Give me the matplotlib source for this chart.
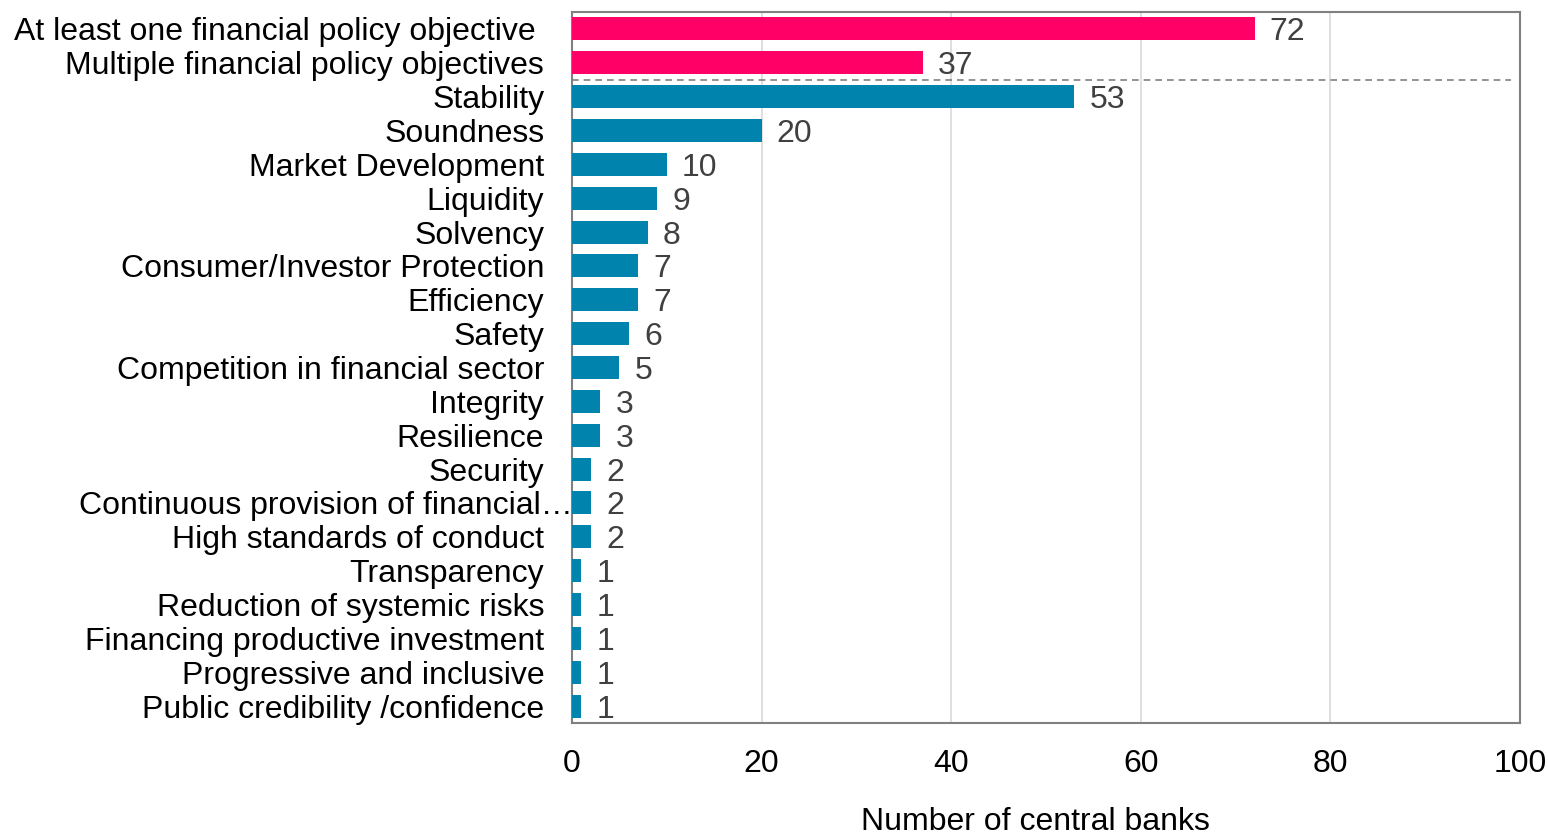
import matplotlib.pyplot as plt
from matplotlib.transforms import ScaledTranslation

categories = [
    "At least one financial policy objective ",
    "Multiple financial policy objectives",
    "Stability",
    "Soundness",
    "Market Development",
    "Liquidity",
    "Solvency",
    "Consumer/Investor Protection",
    "Efficiency",
    "Safety",
    "Competition in financial sector",
    "Integrity",
    "Resilience",
    "Security",
    "Continuous provision of financial\u2026",
    "High standards of conduct",
    "Transparency",
    "Reduction of systemic risks",
    "Financing productive investment",
    "Progressive and inclusive",
    "Public credibility /confidence",
]
values = [72, 37, 53, 20, 10, 9, 8, 7, 7, 6, 5, 3, 3, 2, 2, 2, 1, 1, 1, 1, 1]
x_ticks = [0, 20, 40, 60, 80, 100]

PINK = "#FF0066"
TEAL = "#0083AD"
FS = 23

plt.rcParams["font.family"] = ["Liberation Sans", "DejaVu Sans"]

fig = plt.figure(figsize=(15.48, 8.39), dpi=100)
ax = fig.add_axes([0.3695, 0.1383, 0.6124, 0.8474])

y = list(range(len(categories)))
colors = [PINK if i < 2 else TEAL for i in y]
ax.barh(y, values, height=0.68, color=colors, zorder=3)

for yi, v in zip(y, values):
    ax.annotate(str(v), (v, yi), xytext=(11, -2.5), textcoords="offset points",
                ha="left", va="center", fontsize=FS, color="#404040")

ax.axhline(1.5, xmin=0, xmax=0.99, color="#808080", linestyle=(0, (4, 3)), linewidth=1.2, zorder=4)

ax.set_ylim(len(categories) - 0.5, -0.5)
ax.set_xlim(0, 100)
ax.set_yticks(y)
ax.set_yticklabels(categories, fontsize=FS)
ax.set_xticks(x_ticks)
ax.set_xticklabels([str(t) for t in x_ticks], fontsize=FS)
ax.tick_params(axis="y", length=0, pad=20)
ax.tick_params(axis="x", length=0, pad=19)
ax.grid(axis="x", color="#D9D9D9", linewidth=1.2, zorder=0)
ax.set_axisbelow(True)
for s in ax.spines.values():
    s.set_color("#808080")
    s.set_linewidth(1.5)

# the truncated label runs right up to the axis, like in the original
lbl = ax.get_yticklabels()[14]
lbl.set_transform(lbl.get_transform() + ScaledTranslation(0.29, 0, fig.dpi_scale_trans))

fig.text(1035 / 1548, 1 - 822 / 839, "Number of central banks", fontsize=FS,
         ha="center", va="center")

fig.savefig("out.png", dpi=100)
